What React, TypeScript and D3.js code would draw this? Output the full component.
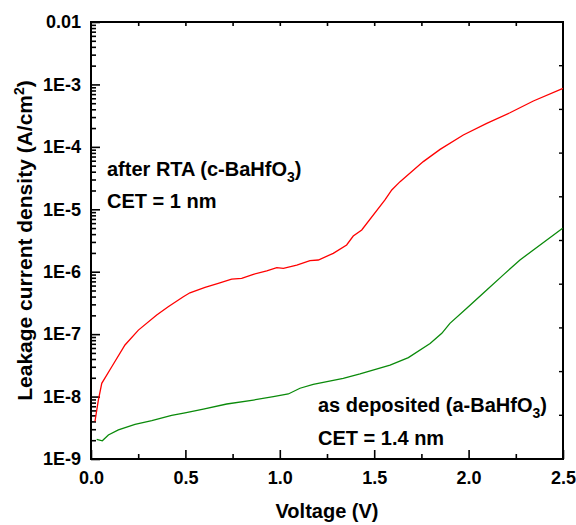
import * as d3 from "d3";
import { useEffect, useRef } from "react";

// red: after RTA (c-BaHfO3), green: as deposited (a-BaHfO3)
const rtaVoltage = [0.021, 0.039, 0.057, 0.11, 0.18, 0.251, 0.348, 0.409, 0.489, 0.524, 0.604, 0.674, 0.745, 0.798, 0.86, 0.931, 0.984, 1.019, 1.09, 1.16, 1.204, 1.283, 1.354, 1.389, 1.434, 1.557, 1.593, 1.637, 1.76, 1.849, 1.972, 2.096, 2.219, 2.343, 2.5];
const rtaCurrent = [4.0e-9, 8.8e-9, 1.63e-8, 3.0e-8, 6.7e-8, 1.16e-7, 2.03e-7, 2.75e-7, 3.98e-7, 4.6e-7, 5.6e-7, 6.5e-7, 7.6e-7, 7.85e-7, 9.1e-7, 1.03e-6, 1.16e-6, 1.13e-6, 1.28e-6, 1.5e-6, 1.54e-6, 1.97e-6, 2.68e-6, 3.73e-6, 4.66e-6, 1.41e-5, 2.04e-5, 2.77e-5, 5.8e-5, 9.1e-5, 1.55e-4, 2.38e-4, 3.52e-4, 5.43e-4, 8.67e-4];

const depVoltage = [0.03, 0.06, 0.092, 0.145, 0.233, 0.322, 0.427, 0.498, 0.595, 0.719, 0.86, 0.966, 1.045, 1.107, 1.177, 1.336, 1.425, 1.584, 1.681, 1.796, 1.858, 1.901, 1.99, 2.096, 2.184, 2.272, 2.343, 2.498];
const depCurrent = [2.07e-9, 1.96e-9, 2.43e-9, 2.92e-9, 3.6e-9, 4.11e-9, 5.0e-9, 5.5e-9, 6.3e-9, 7.6e-9, 8.8e-9, 9.95e-9, 1.1e-8, 1.36e-8, 1.57e-8, 1.96e-8, 2.3e-8, 3.2e-8, 4.2e-8, 7.1e-8, 1.03e-7, 1.49e-7, 2.6e-7, 5.1e-7, 8.9e-7, 1.54e-6, 2.23e-6, 4.96e-6];

const yTicks = [1e-2, 1e-3, 1e-4, 1e-5, 1e-6, 1e-7, 1e-8, 1e-9];
const yTickLabels = ["0.01", "1E-3", "1E-4", "1E-5", "1E-6", "1E-7", "1E-8", "1E-9"];
const xTicks = [0, 0.5, 1.0, 1.5, 2.0, 2.5];

export default function App() {
  const ref = useRef<HTMLDivElement>(null);

  useEffect(() => {
    const width = 576;
    const height = 525;
    const margin = { top: 22, right: 13, bottom: 66, left: 91 };
    const font = "'Liberation Sans', Arial, Helvetica, sans-serif";

    d3.select(ref.current).select("svg").remove();

    const svg = d3
      .select(ref.current)
      .append("svg")
      .attr("width", width)
      .attr("height", height)
      .style("position", "absolute")
      .style("left", "0px")
      .style("top", "0px")
      .style("background", "#fff");

    const x = d3.scaleLinear().domain([0, 2.5]).range([margin.left, width - margin.right]);
    const y = d3.scaleLog().domain([1e-9, 1e-2]).range([height - margin.bottom, margin.top]);

    const x0 = margin.left, x1 = width - margin.right;
    const y0 = height - margin.bottom, y1 = margin.top;

    // minor log ticks 2..9 per decade
    const minor: number[] = [];
    for (let e = -9; e < -2; e++) for (let m = 2; m <= 9; m++) minor.push(m * Math.pow(10, e));

    const styleAxis = (g: any) => {
      g.select(".domain").remove();
      g.selectAll("line").attr("stroke", "#000").attr("stroke-width", 1.6);
      g.selectAll("text")
        .attr("font-family", font)
        .attr("font-weight", "bold")
        .attr("font-size", 18)
        .attr("fill", "#000");
    };

    // Left axis
    svg.append("g")
      .attr("transform", `translate(${x0},0)`)
      .call(d3.axisLeft(y).tickValues(minor).tickSize(-5).tickFormat(() => ""))
      .call(styleAxis);
    svg.append("g")
      .attr("transform", `translate(${x0},0)`)
      .call(d3.axisLeft(y).tickValues(yTicks).tickSize(-9).tickPadding(10)
        .tickFormat((d, i) => yTickLabels[i]))
      .call(styleAxis);

    // Right axis (10 equal divisions)
    const rightTicks = d3.range(1, 10).map((i) => y0 + (y1 - y0) * i / 10);
    svg.append("g")
      .selectAll("line")
      .data(rightTicks)
      .join("line")
      .attr("x1", x1).attr("x2", x1 - 4)
      .attr("y1", (d) => d).attr("y2", (d) => d)
      .attr("stroke", "#000").attr("stroke-width", 1.4);

    // Bottom axis
    svg.append("g")
      .attr("transform", `translate(0,${y0})`)
      .call(d3.axisBottom(x).tickValues(d3.range(0.25, 2.5, 0.5)).tickSize(-5).tickFormat(() => ""))
      .call(styleAxis);
    svg.append("g")
      .attr("transform", `translate(0,${y0})`)
      .call(d3.axisBottom(x).tickValues(xTicks).tickSize(-9).tickPadding(12).tickFormat(d3.format(".1f")))
      .call(styleAxis);

    // Top axis
    svg.append("g")
      .attr("transform", `translate(0,${y1})`)
      .call(d3.axisTop(x).tickValues(d3.range(0.25, 2.5, 0.25)).tickSize(-4).tickFormat(() => ""))
      .call(styleAxis);

    // Frame
    svg.append("rect")
      .attr("x", x0).attr("y", y1)
      .attr("width", x1 - x0).attr("height", y0 - y1)
      .attr("fill", "none").attr("stroke", "#000").attr("stroke-width", 2);

    const line = d3.line<[number, number]>().x((d) => x(d[0])).y((d) => y(d[1]));

    svg.append("path")
      .datum(depVoltage.map((v, i) => [v, depCurrent[i]] as [number, number]))
      .attr("d", line)
      .attr("fill", "none").attr("stroke", "#0a8a0a").attr("stroke-width", 1.3);

    svg.append("path")
      .datum(rtaVoltage.map((v, i) => [v, rtaCurrent[i]] as [number, number]))
      .attr("d", line)
      .attr("fill", "none").attr("stroke", "#ff0000").attr("stroke-width", 1.3);

    const txt = (tx: number, ty: number, size: number) =>
      svg.append("text")
        .attr("x", tx).attr("y", ty)
        .attr("font-family", font).attr("font-weight", "bold")
        .attr("font-size", size).attr("fill", "#000");

    // Annotations
    const a1 = txt(107, 176, 20);
    a1.append("tspan").text("after RTA (c-BaHfO");
    a1.append("tspan").attr("dy", 6).attr("font-size", 14).text("3");
    a1.append("tspan").attr("dy", -6).text(")");
    txt(107, 208, 20).text("CET = 1 nm");

    const a2 = txt(318, 412, 20);
    a2.append("tspan").text("as deposited (a-BaHfO");
    a2.append("tspan").attr("dy", 6).attr("font-size", 14).text("3");
    a2.append("tspan").attr("dy", -6).text(")");
    txt(318, 445, 20).text("CET = 1.4 nm");

    // Axis titles
    txt((x0 + x1) / 2, 518, 20).attr("text-anchor", "middle").text("Voltage (V)");

    const yt = svg.append("text")
      .attr("transform", `translate(32,${(y0 + y1) / 2}) rotate(-90)`)
      .attr("text-anchor", "middle")
      .attr("font-family", font).attr("font-weight", "bold")
      .attr("font-size", 21).attr("fill", "#000");
    yt.append("tspan").text("Leakage current density (A/cm");
    yt.append("tspan").attr("dy", -8).attr("font-size", 14).text("2");
    yt.append("tspan").attr("dy", 8).text(")");
  }, []);

  return <div ref={ref}></div>;
}
